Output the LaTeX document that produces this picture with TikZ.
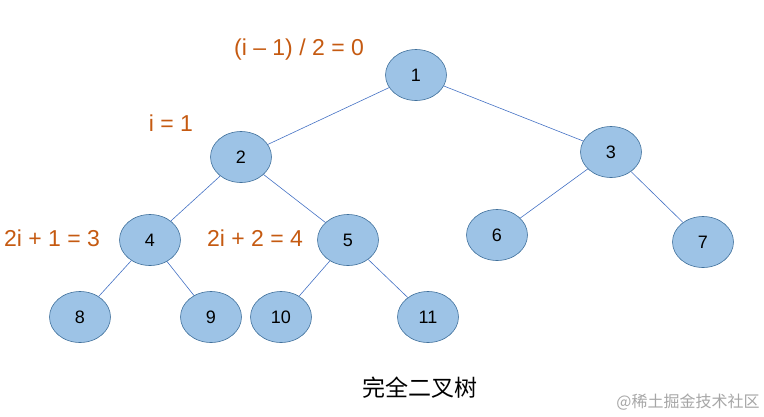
\documentclass[tikz,border=0pt]{standalone}
\usepackage{fontspec}
\setmainfont{Liberation Sans}
\newfontfamily\cjk{Noto Sans CJK SC}
\usetikzlibrary{shapes.geometric}
\definecolor{nfill}{HTML}{9DC3E6}
\definecolor{nline}{HTML}{41719C}
\definecolor{eline}{HTML}{4472C4}
\definecolor{lab}{HTML}{C55A11}
\begin{document}
\begin{tikzpicture}[x=1pt,y=-1pt,
  tn/.style={ellipse,draw=nline,fill=nfill,line width=0.6pt,minimum width=61pt,minimum height=51pt,inner sep=0pt,font=\fontsize{18}{18}\selectfont},
  lb/.style={text=lab,font=\fontsize{23}{23}\selectfont,inner sep=0pt},
  ed/.style={draw=eline,line width=0.6pt}]
\useasboundingbox (0,0) rectangle (764,416);
\node[tn] (n1) at (416,75) {1};
\node[tn] (n2) at (241,157) {2};
\node[tn] (n3) at (611,152) {3};
\node[tn] (n4) at (150,240) {4};
\node[tn] (n5) at (348,240) {5};
\node[tn] (n6) at (497,235) {6};
\node[tn] (n7) at (703,242) {7};
\node[tn] (n8) at (80,317) {8};
\node[tn] (n9) at (211,317) {9};
\node[tn] (n10) at (281,317) {10};
\node[tn] (n11) at (428,317) {11};
\foreach \a/\b in {n1/n2,n1/n3,n2/n4,n2/n5,n3/n6,n3/n7,n4/n8,n4/n9,n5/n10,n5/n11}
  \draw[ed] (\a) -- (\b);
\node[lb] (l1) at (299,50) {(i -- 1) / 2 = 0};
\node[lb] (l2) at (171,123) {i = 1};
\node[lb] (l3) at (52,238) {2i + 1 = 3};
\node[lb] (l4) at (255,238) {2i + 2 = 4};
\node[font=\cjk\fontsize{23}{23}\selectfont] (cap) at (420,388) {完全二叉树};
\node[font=\cjk\fontsize{16}{16}\selectfont,text=gray!70] (wm) at (688,402) {@稀土掘金技术社区};
\end{tikzpicture}
\end{document}
